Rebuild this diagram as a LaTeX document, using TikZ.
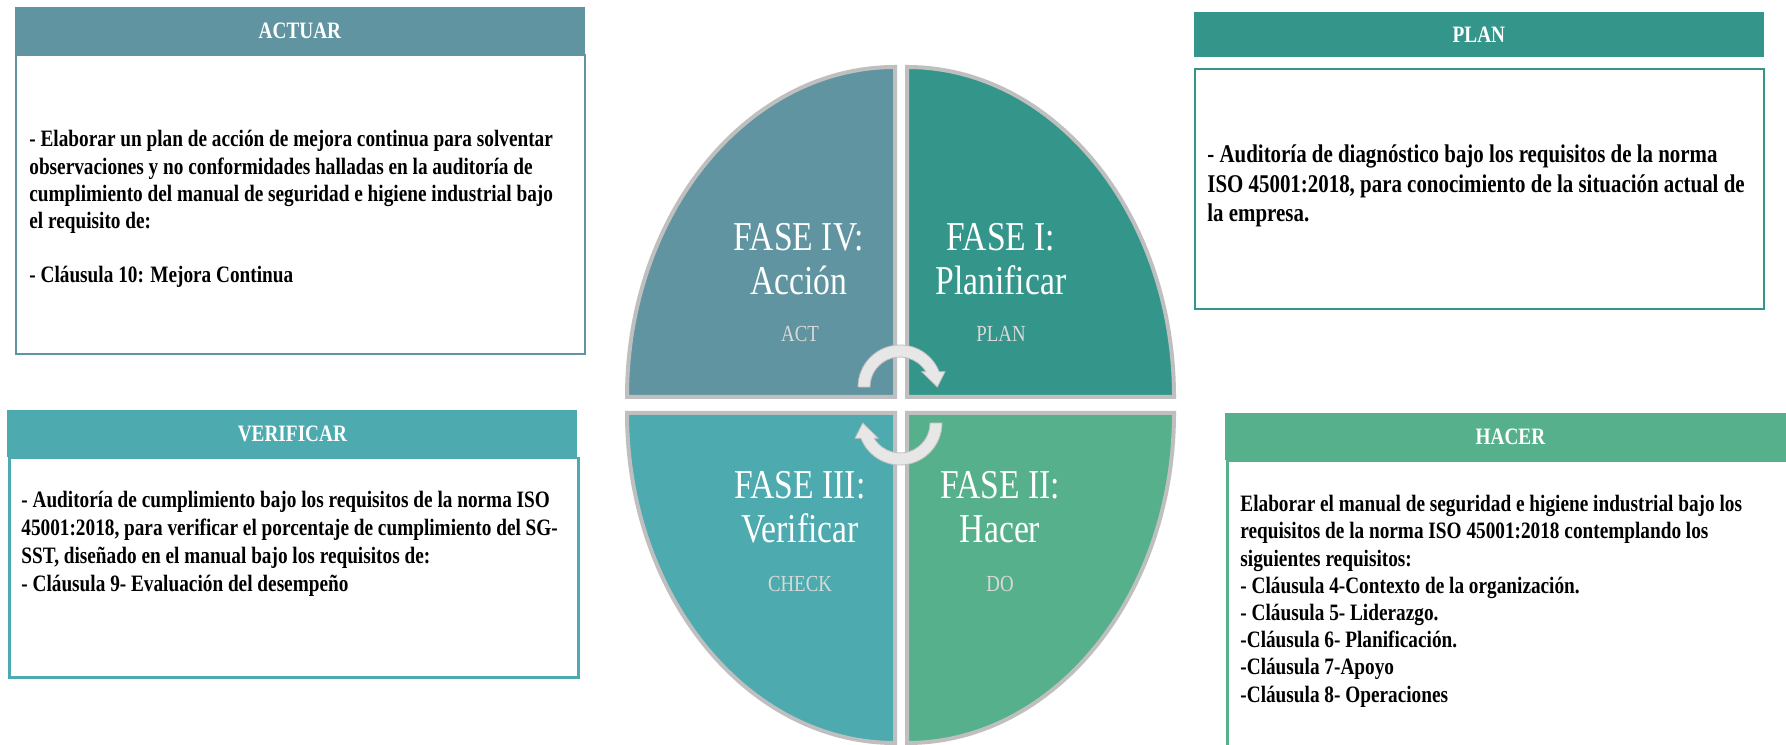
\documentclass[tikz,border=0pt]{standalone}
\usepackage{fontspec}
\setmainfont{Liberation Serif}[FakeStretch=0.82]

\definecolor{actc}{RGB}{95,148,160}
\definecolor{planc}{RGB}{52,150,139}
\definecolor{checkc}{RGB}{77,170,174}
\definecolor{doc}{RGB}{86,176,140}
\definecolor{rimc}{RGB}{191,191,191}
\definecolor{subc}{RGB}{217,217,217}
\definecolor{arrowc}{RGB}{231,231,231}

\begin{document}
\begin{tikzpicture}[x=0.5pt,y=0.5pt,
    quad/.style={draw=rimc,line width=2pt},
    cyc/.style={fill=arrowc,draw=rimc,line width=0.4pt},
    head/.style={anchor=north west,inner sep=0pt,text=white,
      font=\bfseries\fontsize{11.75}{13.6}\selectfont,minimum width=285pt},
    body/.style={anchor=north west,inner sep=0pt,line width=1.25pt,minimum width=284.5pt},
    txt/.style={anchor=base west,inner sep=0pt,align=left,
      font=\bfseries\fontsize{11.75}{13.6}\selectfont},
    fase/.style={anchor=base,inner sep=0pt,align=center,text=white,
      font=\fontsize{20.5}{22}\selectfont},
    sub/.style={anchor=base,inner sep=0pt,text=subc,font=\fontsize{11.5}{13}\selectfont}]
    \fill[white] (0,0) rectangle (1786,744);
    \useasboundingbox (0,0) rectangle (1786,744);

    % ciclo
    \filldraw[quad,fill=actc] (895,347) -- (627,347) arc[start angle=180,end angle=90,x radius=268,y radius=330] -- cycle;
    \filldraw[quad,fill=planc] (907,347) -- (907,677) arc[start angle=90,end angle=0,x radius=267,y radius=330] -- cycle;
    \filldraw[quad,fill=checkc] (895,331) -- (895,1) arc[start angle=270,end angle=180,x radius=268,y radius=330] -- cycle;
    \filldraw[quad,fill=doc] (907,331) -- (1174,331) arc[start angle=0,end angle=-90,x radius=267,y radius=330] -- cycle;

    \filldraw[cyc] (858,357) arc[start angle=180,end angle=21.4,radius=42] -- (945,372.3) -- (937.3,357)
      -- (921.7,372.3) -- (925.8,372.3) arc[start angle=30.7,end angle=180,radius=30] -- cycle;
    \begin{scope}[rotate around={180:(900,339)}]
    \filldraw[cyc] (858,357) arc[start angle=180,end angle=21.4,radius=42] -- (945,372.3) -- (937.3,357)
      -- (921.7,372.3) -- (925.8,372.3) arc[start angle=30.7,end angle=180,radius=30] -- cycle;
    \end{scope}

    \node[fase] (f4) at (799,449) {FASE IV:\\Acción};
    \node[sub] (s4) at (800,402) {ACT};
    \node[fase] (f1) at (1001,449) {FASE I:\\Planificar};
    \node[sub] (s1) at (1001,402) {PLAN};
    \node[fase] (f3) at (800,201) {FASE III:\\Verificar};
    \node[sub] (s3) at (800,153) {CHECK};
    \node[fase] (f2) at (1000,201) {FASE II:\\Hacer};
    \node[sub] (s2) at (1000,153) {DO};

    % actuar
    \node[body,draw=actc,minimum height=149.5pt] (actbody) at (14.5,690) {};
    \node[head,fill=actc,minimum height=23.5pt] (act) at (14.5,737) {ACTUAR};
    \node[txt] (acttxt) at (29,461) {- Elaborar un plan de acción de mejora continua para solventar\\
      observaciones y no conformidades halladas en la auditoría de\\
      cumplimiento del manual de seguridad e higiene industrial bajo\\
      el requisito de:\\[13.6pt]
      - Cláusula 10: Mejora Continua};

    % plan
    \node[body,draw=planc,minimum height=120pt] (planbody) at (1193.5,676) {};
    \node[head,fill=planc,minimum height=22.65pt] (plan) at (1193.5,732.3) {PLAN};
    \node[txt,font=\bfseries\fontsize{12.75}{14.75}\selectfont] (plantxt) at (1207,522)
      {- Auditoría de diagnóstico bajo los requisitos de la norma\\
      ISO 45001:2018, para conocimiento de la situación actual de\\
      la empresa.};

    % verificar
    \node[body,draw=checkc,minimum height=109.5pt] (verbody) at (8,287) {};
    \node[head,fill=checkc,minimum height=23.5pt] (ver) at (7,334) {VERIFICAR};
    \node[txt,font=\bfseries\fontsize{11.75}{13.85}\selectfont] (vertxt) at (21,153)
      {- Auditoría de cumplimiento bajo los requisitos de la norma ISO\\
      45001:2018, para verificar el porcentaje de cumplimiento del SG-\\
      SST, diseñado en el manual bajo los requisitos de:\\
      - Cláusula 9- Evaluación del desempeño};

    % hacer
    \node[body,draw=doc,minimum height=150pt] (hacbody) at (1226,284) {};
    \node[head,fill=doc,minimum height=23.5pt] (hac) at (1225,331) {HACER};
    \node[txt] (hactxt) at (1240,42)
      {Elaborar el manual de seguridad e higiene industrial bajo los\\
      requisitos de la norma ISO 45001:2018 contemplando los\\
      siguientes requisitos:\\
      - Cláusula 4-Contexto de la organización.\\
      - Cláusula 5- Liderazgo.\\
      -Cláusula 6- Planificación.\\
      -Cláusula 7-Apoyo\\
      -Cláusula 8- Operaciones};
\end{tikzpicture}
\end{document}
